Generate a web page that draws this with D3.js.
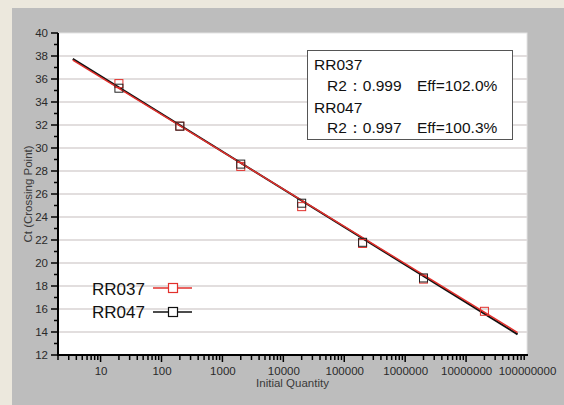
<!DOCTYPE html>
<html>
<head>
<meta charset="utf-8">
<script src="https://cdn.jsdelivr.net/npm/d3@7"></script>
<style>
  html, body { margin: 0; padding: 0; background: #ece8dd; }
  svg { display: block; }
  text { font-family: "Liberation Sans", Arial, sans-serif; }
</style>
</head>
<body>
<svg id="chart" width="564" height="405"></svg>
<script>
// ---- data ----
const quantities = [20, 200, 2000, 20000, 200000, 2000000, 20000000];
const rr037Ct = [35.6, 31.9, 28.4, 24.9, 21.7, 18.6, 15.8];
const rr047Ct = [35.2, 31.9, 28.6, 25.2, 21.8, 18.7];
const fitX = [3.5, 70000000];
const rr037Fit = [37.65, 13.95];
const rr047Fit = [37.75, 13.8];
const yTicks = [12, 14, 16, 18, 20, 22, 24, 26, 28, 30, 32, 34, 36, 38, 40];
const xMajor = [10, 100, 1000, 10000, 100000, 1000000, 10000000, 100000000];
const seriesNames = ["RR037", "RR047"];
const statsLines = ["RR037", "R2：0.999", "Eff=102.0%", "RR047", "R2：0.997", "Eff=100.3%"];

// ---- layout ----
const svg = d3.select("#chart");
const W = 564, H = 405;
const m = { left: 58, right: 527, top: 33, bottom: 355 };
const red = "#e2302c", black = "#111";

svg.append("rect").attr("x", 12).attr("y", 8).attr("width", W - 12).attr("height", H - 8).attr("fill", "#bdbdbd");
svg.append("rect").attr("x", m.left).attr("y", m.top).attr("width", m.right - m.left).attr("height", m.bottom - m.top)
  .attr("fill", "#fff").attr("stroke", "#e4e4e4").attr("stroke-width", 1);

const x = d3.scaleLog().domain([2, 100000000]).range([m.left, m.right]);
const y = d3.scaleLinear().domain([12, 40]).range([m.bottom, m.top]);

// gridlines
svg.append("g").selectAll("line").data(yTicks.filter(d => d > 12 && d < 40)).join("line")
  .attr("x1", m.left).attr("x2", m.right)
  .attr("y1", d => y(d)).attr("y2", d => y(d))
  .attr("stroke", "#e2dede").attr("stroke-width", 2);

// y axis
const yMinor = d3.range(12, 41, 1);
const yg = svg.append("g").attr("transform", `translate(${m.left},0)`);
yg.selectAll("line.minor").data(yMinor).join("line")
  .attr("x1", d => d % 2 === 0 ? -7 : -4).attr("x2", 0)
  .attr("y1", d => y(d)).attr("y2", d => y(d))
  .attr("stroke", "#000").attr("stroke-width", 1.5);
yg.selectAll("text").data(yTicks).join("text")
  .attr("x", -10).attr("y", d => y(d) + 4)
  .attr("text-anchor", "end").attr("font-size", 11.5).attr("fill", "#2a2a2a")
  .text(d => d);

// x axis
const xAxis = d3.axisBottom(x).tickValues(xMajor).tickFormat(d3.format("d")).tickSize(0);
const xMinorVals = [];
for (let e = 0; e < 8; e++) for (let k = 1; k < 10; k++) { const v = k * Math.pow(10, e); if (v >= 2 && v <= 1e8) xMinorVals.push(v); }
const xg = svg.append("g").attr("transform", `translate(0,${m.bottom})`);
xg.selectAll("line").data(xMinorVals).join("line")
  .attr("x1", d => x(d)).attr("x2", d => x(d))
  .attr("y1", 0).attr("y2", d => xMajor.includes(d) ? 7 : 5)
  .attr("stroke", "#000").attr("stroke-width", 1.5);
const xa = svg.append("g").attr("transform", `translate(0,${m.bottom})`).call(xAxis);
xa.select(".domain").remove();
xa.selectAll("text").attr("font-size", 11.5).attr("fill", "#2a2a2a").attr("dy", 0).attr("y", 20)
  .attr("font-family", "Liberation Sans, Arial, sans-serif");

// axis lines
svg.append("line").attr("x1", m.left).attr("x2", m.left).attr("y1", m.top).attr("y2", m.bottom + 1)
  .attr("stroke", "#000").attr("stroke-width", 2);
svg.append("line").attr("x1", m.left - 1).attr("x2", m.right + 1).attr("y1", m.bottom).attr("y2", m.bottom)
  .attr("stroke", "#000").attr("stroke-width", 2);

// axis titles
svg.append("text").attr("x", (m.left + m.right) / 2).attr("y", 387).attr("text-anchor", "middle")
  .attr("font-size", 11.5).attr("fill", "#3a3a3a").text("Initial Quantity");
svg.append("text").attr("transform", `translate(32,${(m.top + m.bottom) / 2}) rotate(-90)`)
  .attr("text-anchor", "middle").attr("font-size", 11.5).attr("fill", "#3a3a3a").text("Ct (Crossing Point)");

// fit lines
const line = d3.line().x(d => x(d[0])).y(d => y(d[1]));
svg.append("path").datum(fitX.map((v, i) => [v, rr047Fit[i]])).attr("d", line)
  .attr("stroke", black).attr("stroke-width", 2).attr("fill", "none");
svg.append("path").datum(fitX.map((v, i) => [v, rr037Fit[i]])).attr("d", line)
  .attr("stroke", red).attr("stroke-width", 1.5).attr("fill", "none");

// markers
const s = 8;
svg.append("g").selectAll("rect").data(quantities.map((q, i) => [q, rr037Ct[i]])).join("rect")
  .attr("x", d => x(d[0]) - s / 2).attr("y", d => y(d[1]) - s / 2).attr("width", s).attr("height", s)
  .attr("fill", "none").attr("stroke", red).attr("stroke-width", 1);
svg.append("g").selectAll("rect").data(rr047Ct.map((c, i) => [quantities[i], c])).join("rect")
  .attr("x", d => x(d[0]) - s / 2).attr("y", d => y(d[1]) - s / 2).attr("width", s).attr("height", s)
  .attr("fill", "none").attr("stroke", "#222").attr("stroke-width", 1);

// stats box
svg.append("rect").attr("x", 307.5).attr("y", 50.5).attr("width", 205).attr("height", 89)
  .attr("fill", "#fff").attr("stroke", "#555").attr("stroke-width", 1);
const st = svg.append("g").attr("font-size", 15.5).attr("fill", "#111");
st.append("text").attr("x", 314).attr("y", 70).text(statsLines[0]);
st.append("text").attr("x", 327).attr("y", 91).text(statsLines[1]);
st.append("text").attr("x", 417).attr("y", 91).text(statsLines[2]);
st.append("text").attr("x", 314).attr("y", 113).text(statsLines[3]);
st.append("text").attr("x", 327).attr("y", 133).text(statsLines[4]);
st.append("text").attr("x", 417).attr("y", 133).text(statsLines[5]);

// legend
const lg = svg.append("g");
[[red, 295, 288], [black, 318, 312]].forEach((c, i) => {
  lg.append("text").attr("x", 92).attr("y", c[1]).attr("font-size", 17).attr("fill", "#111").text(seriesNames[i]);
  lg.append("line").attr("x1", 153).attr("x2", 192).attr("y1", c[2]).attr("y2", c[2])
    .attr("stroke", c[0]).attr("stroke-width", 1.3);
  lg.append("rect").attr("x", 168.5).attr("y", c[2] - 4.5).attr("width", 9).attr("height", 9)
    .attr("fill", "#fff").attr("stroke", c[0]).attr("stroke-width", 1.2);
});
</script>
</body>
</html>
